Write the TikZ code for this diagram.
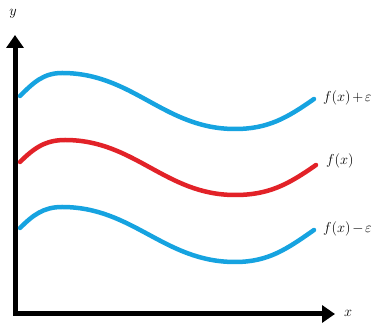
\documentclass[tikz,border=0pt]{standalone}
\usetikzlibrary{arrows.meta}

\definecolor{bandblue}{RGB}{22,163,224}
\definecolor{fred}{RGB}{226,34,40}

\begin{document}
\begin{tikzpicture}[
		x=1pt, y=1pt,
		axis/.style={line width=5pt, line join=miter, {Triangle[length=13pt, width=17pt]}-{Triangle[length=13pt, width=17pt]}},
		band/.style={line width=4.5pt, bandblue, line cap=round},
		func/.style={line width=4.5pt, fred, line cap=round},
		lbl/.style={anchor=west, inner sep=0pt, font=\fontsize{15}{18}\selectfont}
		]
		\useasboundingbox (0, 0) rectangle (374, 323);
		% axes
		\coordinate (origin) at (15, 9);
		\coordinate (xtip) at (335, 9);
		\coordinate (ytip) at (15, 288);
		\draw[axis] (ytip) -- (origin) -- (xtip);
		\node (ylabel) at (13, 309) [lbl, anchor=center] {$y$};
		\node (xlabel) at (348, 10) [lbl, anchor=center] {$x$};
		% curves
		\draw[band] (20, 227) to[out=45, in=180] (62, 250) to[out=0, in=180] (235, 194) to[out=0, in=215] (314, 224);
		\draw[func] (20, 161) to[out=45, in=180] (65, 183) to[out=0, in=180] (235, 128) to[out=0, in=215] (316, 158);
		\draw[band] (20, 95) to[out=45, in=180] (62, 116) to[out=0, in=180] (235, 61) to[out=0, in=215] (314, 93);
		% labels
		\node (upper) at (323, 225) [lbl] {$f(x)\mkern-2mu+\mkern-2mu\varepsilon$};
		\node (middle) at (326, 162) [lbl] {$f(x)$};
		\node (lower) at (323, 94) [lbl] {$f(x)\mkern-2mu-\mkern-2mu\varepsilon$};
	\end{tikzpicture}
\end{document}
